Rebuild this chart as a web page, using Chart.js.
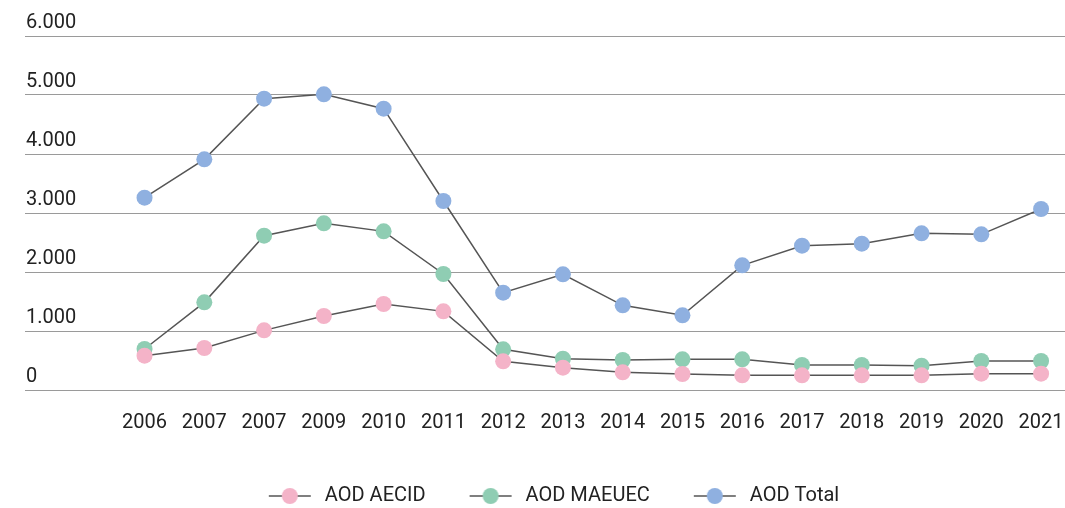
<!DOCTYPE html>
<html>
<head>
<meta charset="utf-8">
<script src="https://cdn.jsdelivr.net/npm/chart.js@4"></script>
<style>
    html, body { margin: 0; padding: 0; background: #fff; }
    #wrap { width: 1065px; height: 508px; }
</style>
</head>
<body>
<div id="wrap"><canvas id="chart"></canvas></div>
<script>
var years = ['2006', '2007', '2007', '2009', '2010', '2011', '2012', '2013', '2014', '2015', '2016', '2017', '2018', '2019', '2020', '2021'];
var aodAecid = [582, 712, 1011, 1254, 1458, 1333, 486, 379, 299, 271, 249, 249, 249, 249, 277, 277];
var aodMaeuec = [695, 1486, 2616, 2825, 2689, 1966, 690, 531, 508, 520, 520, 424, 424, 412, 492, 492];
var aodTotal = [3260, 3910, 4938, 5011, 4768, 3203, 1649, 1961, 1435, 1266, 2113, 2446, 2480, 2655, 2638, 3068];
var yTicks = ['0', '1.000', '2.000', '3.000', '4.000', '5.000', '6.000'];

var font = 'Roboto, "Noto Sans", sans-serif';

function toPoints(values) {
    return values.map(function (v, i) {
        return { x: i, y: v };
    });
}

// legend marker: blank space on the left, then a short line with a dot
function legendMarker(color) {
    var c = document.createElement('canvas');
    c.width = 89;
    c.height = 18;
    var ctx = c.getContext('2d');
    ctx.strokeStyle = '#555';
    ctx.lineWidth = 1.5;
    ctx.beginPath();
    ctx.moveTo(43, 9);
    ctx.lineTo(85, 9);
    ctx.stroke();
    ctx.fillStyle = color;
    ctx.beginPath();
    ctx.arc(64, 9, 8, 0, Math.PI * 2);
    ctx.fill();
    return c;
}

function series(label, values, color) {
    return {
        label: label,
        data: toPoints(values),
        borderColor: '#555',
        borderWidth: 1.5,
        backgroundColor: color,
        pointBackgroundColor: color,
        pointBorderColor: color,
        pointBorderWidth: 0,
        pointRadius: 8,
        pointHoverRadius: 8,
        tension: 0,
        marker: legendMarker(color)
    };
}

var datasets = [
    series('AOD AECID', aodAecid, '#f4b3c8'),
    series('AOD MAEUEC', aodMaeuec, '#8fcdb3'),
    series('AOD Total', aodTotal, '#8fb0e0')
];

// push the legend a little lower than Chart.js puts it
var legendShift = {
    id: 'legendShift',
    afterLayout: function (chart) {
        chart.legend.top += 8;
        chart.legend.bottom += 8;
    }
};

new Chart(document.getElementById('chart'), {
    type: 'line',
    data: { datasets: datasets },
    plugins: [legendShift],
    options: {
        responsive: true,
        maintainAspectRatio: false,
        animation: false,
        layout: { autoPadding: false, padding: { top: 36, left: 0, right: 0, bottom: 0 } },
        scales: {
            x: {
                type: 'linear',
                min: -2,
                max: 15.4,
                grid: { display: false },
                border: { display: false },
                afterBuildTicks: function (scale) {
                    scale.ticks = years.map(function (y, i) { return { value: i }; });
                },
                afterFit: function (scale) {
                    scale.height = 87;
                    scale.paddingLeft = 0;
                    scale.paddingRight = 0;
                },
                ticks: {
                    autoSkip: false,
                    maxRotation: 0,
                    padding: 13,
                    color: '#222',
                    font: { family: font, size: 20 },
                    callback: function (v) { return years[v]; }
                }
            },
            y: {
                min: 0,
                max: 6000,
                afterBuildTicks: function (scale) {
                    scale.ticks = yTicks.map(function (t, i) { return { value: i * 1000 }; });
                },
                afterFit: function (scale) { scale.width = 25; },
                grid: { color: '#9a9a9a', lineWidth: 1, drawTicks: false },
                border: { display: false },
                ticks: {
                    mirror: true,
                    padding: 1,
                    labelOffset: -13,
                    color: '#222',
                    font: { family: font, size: 20 },
                    callback: function (v) { return yTicks[v / 1000]; }
                }
            }
        },
        plugins: {
            legend: {
                position: 'bottom',
                labels: {
                    usePointStyle: true,
                    pointStyleWidth: 89,
                    padding: 1,
                    color: '#222',
                    font: { family: font, size: 20 },
                    generateLabels: function (chart) {
                        var items = Chart.defaults.plugins.legend.labels.generateLabels(chart);
                        items.forEach(function (item) {
                            item.pointStyle = chart.data.datasets[item.datasetIndex].marker;
                        });
                        return items;
                    }
                }
            },
            tooltip: { enabled: false }
        }
    }
});
</script>
</body>
</html>
